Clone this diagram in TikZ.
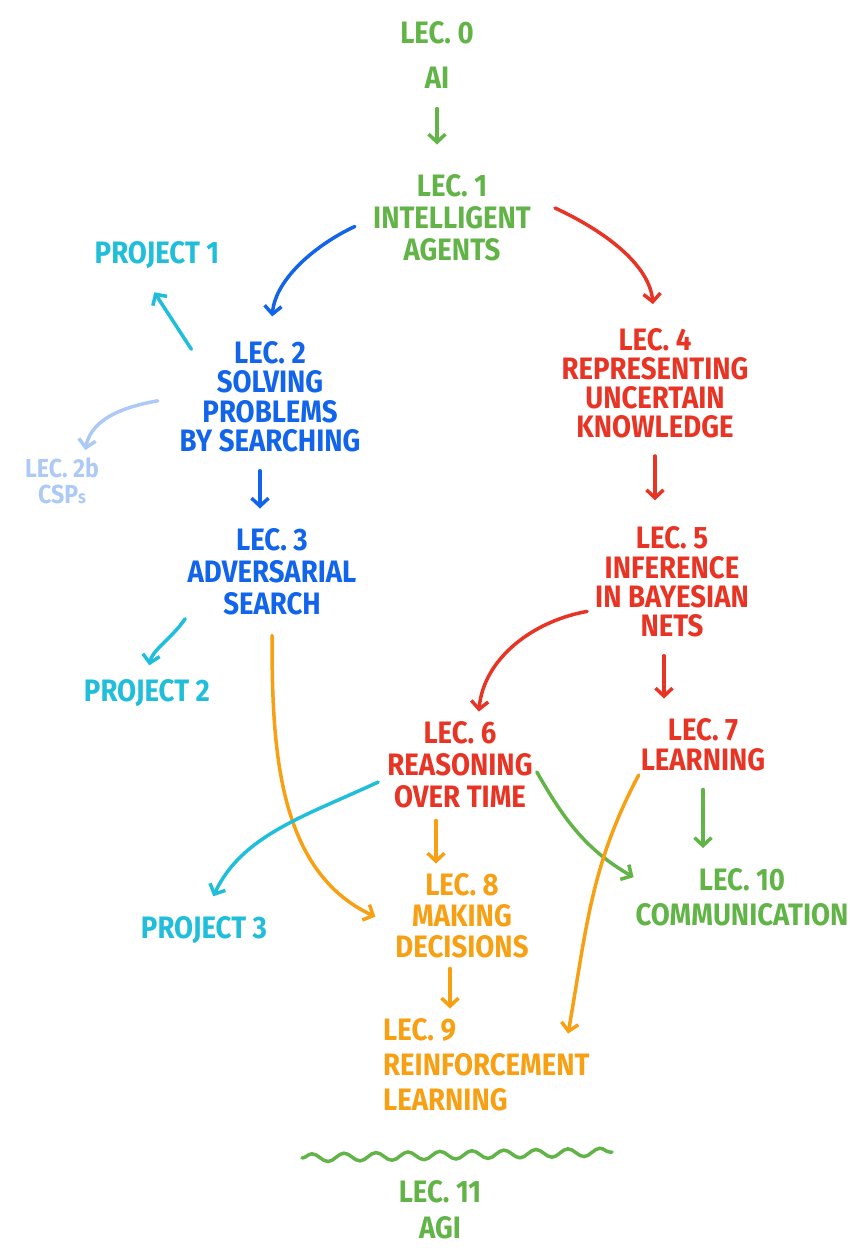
\documentclass[tikz,border=0pt]{standalone}
\usepackage{fontspec}
\setmainfont[FakeStretch=0.89]{Fira Sans}
\usepackage{tikz}
\usetikzlibrary{arrows.meta,decorations.pathmorphing}
\definecolor{lecgreen}{RGB}{98,180,72}
\definecolor{lecblue}{RGB}{18,100,235}
\definecolor{leclight}{RGB}{172,202,245}
\definecolor{leccyan}{RGB}{32,190,218}
\definecolor{lecred}{RGB}{232,52,36}
\definecolor{lecorange}{RGB}{247,160,20}
\newcommand{\lecfont}[1]{\fontsize{31}{#1}\selectfont\bfseries}

\begin{document}
\begin{tikzpicture}[x=1pt,y=1pt,
    lec/.style={align=center,inner sep=0pt,font=\lecfont{31}},
    link/.style={line width=3.5pt,line cap=round,
      -{Straight Barb[length=8pt,width=17pt]}}]
    \useasboundingbox (0,0) rectangle (850,-1258);

    % Lecciones (bloques de texto).
    \node[lec,text=lecgreen,font=\lecfont{45}] (l0) at (437,-55) {LEC. 0\\AI};
    \node[lec,text=lecgreen,font=\lecfont{32}] (l1) at (452,-218) {LEC. 1\\INTELLIGENT\\AGENTS};
    \node[lec,text=lecblue,font=\lecfont{29.5}] (l2) at (270,-397) {LEC. 2\\SOLVING\\PROBLEMS\\BY SEARCHING};
    \node[lec,text=leclight,font=\fontsize{26}{25.5}\selectfont\bfseries] (l2b) at (62,-481) {LEC. 2b\\CSP{\fontsize{18}{20}\selectfont s}};
    \node[lec,text=lecblue,font=\lecfont{32}] (l3) at (272,-572) {LEC. 3\\ADVERSARIAL\\SEARCH};
    \node[lec,text=lecred,font=\lecfont{29}] (l4) at (655,-383) {LEC. 4\\REPRESENTING\\UNCERTAIN\\KNOWLEDGE};
    \node[lec,text=lecred,font=\lecfont{29.5}] (l5) at (672,-582) {LEC. 5\\INFERENCE\\IN BAYESIAN\\NETS};
    \node[lec,text=lecred,font=\lecfont{32}] (l6) at (460,-765) {LEC. 6\\REASONING\\OVER TIME};
    \node[lec,text=lecred,font=\lecfont{30}] (l7) at (703,-745) {LEC. 7\\LEARNING};
    \node[lec,text=lecorange,font=\lecfont{31}] (l8) at (462,-916) {LEC. 8\\MAKING\\DECISIONS};
    \node[lec,text=lecorange,font=\lecfont{35},align=left,anchor=west] (l9) at (383,-1065) {LEC. 9\\REINFORCEMENT\\LEARNING};
    \node[lec,text=lecgreen,font=\lecfont{35}] (l10) at (742,-897) {LEC. 10\\COMMUNICATION};
    \node[lec,text=lecgreen,font=\lecfont{36}] (l11) at (440,-1210) {LEC. 11\\AGI};

    % Proyectos.
    \node[lec,text=leccyan] (p1) at (157,-255) {PROJECT 1};
    \node[lec,text=leccyan] (p2) at (147,-693) {PROJECT 2};
    \node[lec,text=leccyan] (p3) at (204,-930) {PROJECT 3};

    % Flechas.
    \draw[link,lecgreen,shorten <=20pt,shorten >=30pt] (l0.south) -- (l0.south |- l1.north);
    \draw[link,lecblue,shorten <=20pt,shorten >=25pt] (l1.west) to[out=205,in=85] (l2.north);
    \draw[link,lecred,shorten >=24pt] ([shift={(24pt,10pt)}]l1.east) to[out=-25,in=95] (l4.north);
    \draw[link,leccyan,shorten >=28pt] ([shift={(12pt,-8pt)}]l2.north west) -- ([xshift=-18pt]p1.south);
    \draw[link,leclight,shorten <=22pt,shorten >=8pt] (l2.west) to[out=190,in=80] ([xshift=22pt]l2b.north);
    \draw[link,lecblue,shorten <=18pt,shorten >=20pt] ([xshift=-10pt]l2.south) -- ([xshift=-10pt]l2.south |- l3.north);
    \draw[link,leccyan,shorten <=4pt,shorten >=14pt] (l3.south west) to[out=-125,in=80] (p2.north);
    \draw[link,lecorange,shorten <=20pt,shorten >=22pt] (l3.south) to[out=-90,in=155] ([yshift=-10pt]l8.west);
    \draw[link,lecred,shorten <=18pt,shorten >=26pt] (l4.south) -- (l4.south |- l5.north);
    \draw[link,lecred,shorten <=8pt,shorten >=10pt] (l5.200) to[out=190,in=85] ([xshift=18pt]l6.north);
    \draw[link,lecred,shorten <=18pt,shorten >=20pt] ([xshift=-8pt]l5.south) -- ([xshift=-8pt]l5.south |- l7.north);
    \draw[link,leccyan,shorten <=10pt,shorten >=22pt] (l6.190) to[out=205,in=65] (p3.north);
    \draw[link,lecgreen,shorten <=8pt,shorten >=2pt] (l6.east) to[out=-60,in=150] (l10.170);
    \draw[link,lecorange,shorten <=12pt,shorten >=10pt] ([xshift=-24pt]l6.south) -- ([xshift=-24pt]l6.south |- l8.north);
    \draw[link,lecgreen,shorten <=18pt,shorten >=20pt] (l7.south) -- (l7.south |- l10.north);
    \draw[link,lecorange,shorten <=4pt,shorten >=2pt] (l7.south west) to[out=-118,in=80] ([xshift=-22pt,yshift=-17pt]l9.north east);
    \draw[link,lecorange,shorten <=10pt,shorten >=10pt] ([xshift=-12pt]l8.south) -- ([xshift=-12pt]l8.south |- l9.north);

    % Linea ondulada antes de AGI.
    \draw[lecgreen,line width=3.5pt,line cap=round,decorate,
      decoration={snake,amplitude=4pt,segment length=32pt}] (302,-1158) -- (612,-1152);
\end{tikzpicture}
\end{document}
